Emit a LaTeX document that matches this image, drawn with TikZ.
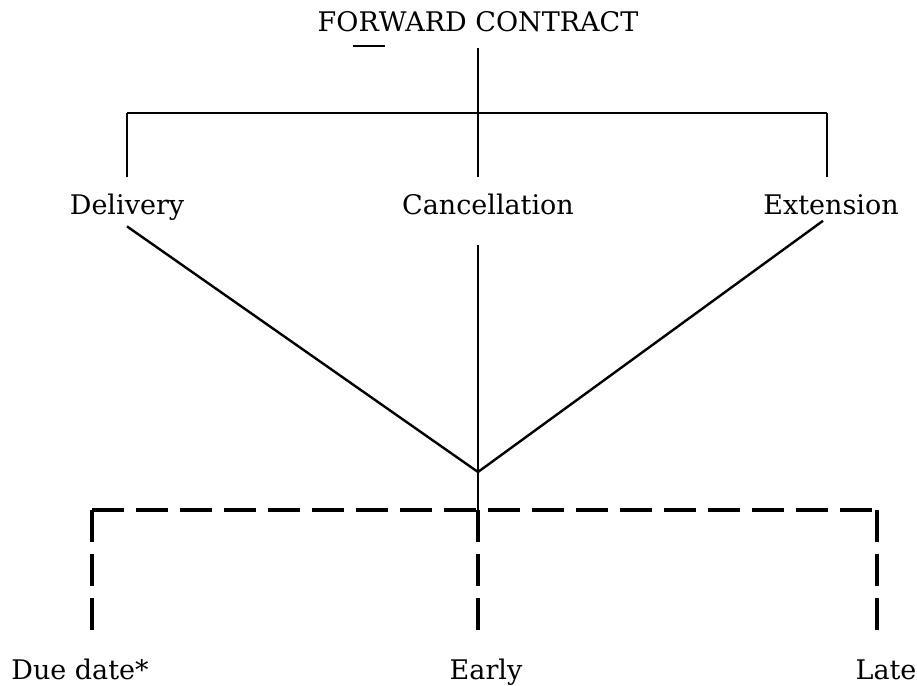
\documentclass[tikz,border=0pt]{standalone}
\usepackage{fontspec}
\setmainfont{DejaVu Serif}
\usetikzlibrary{positioning}
\newcommand{\lowbar}[1]{\setbox0\hbox{#1}\rlap{\hspace{-3pt}\rule[-8pt]{\dimexpr\wd0+6pt\relax}{0.8pt}}\box0}
\tikzset{
  solidline/.style = {line width=1.2pt, black},
  dashline/.style  = {line width=1.8pt, black, dash pattern=on 16pt off 6pt},
  lbl/.style       = {font=\fontsize{13.5}{15}\selectfont, inner sep=1pt, anchor=base},
}

\begin{document}
\begin{tikzpicture}[x=0.5pt,y=-0.5pt]
  \useasboundingbox (0,0) rectangle (917,686);
  % top level
  \node[lbl] (title) at (478,31) {FO\lowbar{R}WARD CONTRACT};
  \coordinate (top) at (478,48);
  \coordinate (barL) at (127,113);
  \coordinate (barM) at (478,113);
  \coordinate (barR) at (827,113);
  \draw[solidline] (top) -- (barM);
  \draw[solidline] (barL) -- (barR);
  % choices
  \node[lbl] (delivery)  at (127,214) {Delivery};
  \node[lbl] (cancel)    at (488,214) {Cancellation};
  \node[lbl] (extension) at (831,214) {Extension};
  \draw[solidline] (barL) -- ++(0,64);
  \draw[solidline] (barM) -- ++(0,64);
  \draw[solidline] (barR) -- ++(0,64);
  % meeting point
  \coordinate (cmid) at (478,245);
  \coordinate (join) at (478,472);
  \coordinate (dashL) at (92,510);
  \coordinate (dashM) at (478,510);
  \coordinate (dashR) at (877,510);
  \draw[solidline] ([yshift=-2pt]delivery.south) -- (join);
  \draw[solidline] ([xshift=-4pt,yshift=-2pt]extension.south) -- (join);
  \draw[solidline] (cmid) -- (join) -- (dashM);
  % timing
  \node[lbl] (duedate) at (80,679) {Due date*};
  \node[lbl] (early)   at (486,679) {Early};
  \node[lbl] (late)    at (886,679) {Late};
  \draw[dashline] (dashL) -- (dashR);
  \draw[dashline] (dashL) -- (dashL |- 0,638);
  \draw[dashline] (dashM) -- (dashM |- 0,638);
  \draw[dashline] (dashR) -- (dashR |- 0,638);
\end{tikzpicture}
\end{document}
